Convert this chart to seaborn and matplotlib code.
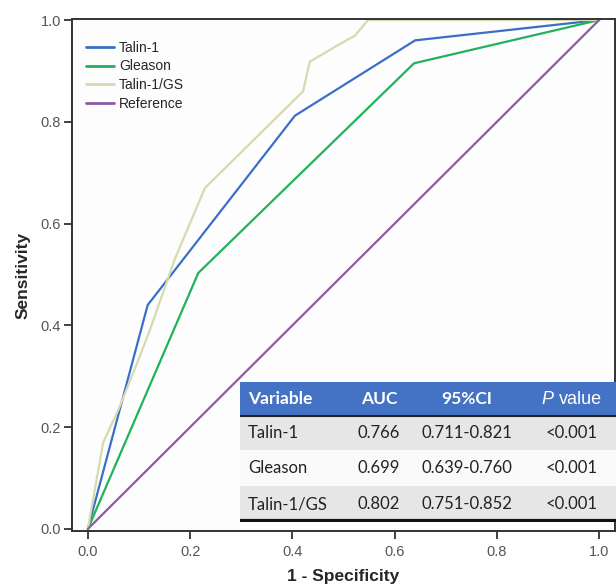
import numpy as np
import pandas as pd
import matplotlib
matplotlib.use("Agg")
import matplotlib.pyplot as plt
import seaborn as sns
from matplotlib.patches import Rectangle

# ROC curve points (1 - specificity, sensitivity)
talin_x = [0.0, 0.117, 0.405, 0.640, 1.0]
talin_y = [0.0, 0.440, 0.812, 0.960, 1.0]

gleason_x = [0.0, 0.216, 0.638, 1.0]
gleason_y = [0.0, 0.503, 0.915, 1.0]

ratio_x = [0.0, 0.030, 0.060, 0.098, 0.121, 0.170, 0.229, 0.421, 0.434, 0.493, 0.522, 0.548, 1.0]
ratio_y = [0.0, 0.170, 0.235, 0.330, 0.390, 0.530, 0.670, 0.860, 0.918, 0.953, 0.969, 1.0, 1.0]

ref_x = [0.0, 1.0]
ref_y = [0.0, 1.0]

series_names = ["Talin-1", "Gleason", "Talin-1/GS", "Reference"]
series_colors = ["#3b6fc6", "#20b25c", "#d4dbb0", "#8c5aa6"]

# summary table
table_header = ["Variable", "AUC", "95%CI", "P value"]
table_variable = ["Talin-1", "Gleason", "Talin-1/GS"]
table_auc = ["0.766", "0.699", "0.802"]
table_ci = ["0.711-0.821", "0.639-0.760", "0.751-0.852"]
table_p = ["<0.001", "<0.001", "<0.001"]

frames = []
for name, xs, ys in zip(series_names,
                        [talin_x, gleason_x, ratio_x, ref_x],
                        [talin_y, gleason_y, ratio_y, ref_y]):
    frames.append(pd.DataFrame({"fpr": xs, "tpr": ys, "Variable": name}))
df = pd.concat(frames, ignore_index=True)

sns.set_style("white")
plt.rcParams["font.family"] = ["Liberation Sans", "DejaVu Sans"]

fig = plt.figure(figsize=(6.16, 5.88), dpi=100)
ax = fig.add_axes([72 / 616, 1 - 531 / 588, 543 / 616, 512 / 588])
ax.set_facecolor("#fdfdfe")

sns.lineplot(data=df, x="fpr", y="tpr", hue="Variable", hue_order=series_names,
             palette=series_colors, sort=False, estimator=None, linewidth=1.6,
             ax=ax)

ticks = np.arange(0, 1.01, 0.2)
ax.set_xlim(-0.031, 1.031)
ax.set_ylim(-0.004, 1.002)
ax.set_xticks(ticks)
ax.set_yticks(ticks)
ax.set_xticklabels([f"{v:.1f}" for v in ticks])
ax.set_yticklabels([f"{v:.1f}" for v in ticks])
ax.tick_params(axis="both", direction="out", length=6, width=1.3, color="#333333",
               labelsize=10.5, labelcolor="#555555", bottom=True, left=True)
ax.tick_params(axis="x", pad=4)
ax.tick_params(axis="y", pad=2)
for s in ax.spines.values():
    s.set_color("#333333")
    s.set_linewidth(1.4)

ax.set_xlabel("1 - Specificity", fontsize=12.5, fontweight="bold", labelpad=7)
ax.set_ylabel("Sensitivity", fontsize=12.5, fontweight="bold", labelpad=7)

leg = ax.legend(loc="upper left", frameon=False, fontsize=10, handlelength=2.0,
                handletextpad=0.4, labelspacing=0.35, borderaxespad=0.6,
                bbox_to_anchor=(0.0, 0.985))
for line in leg.get_lines():
    line.set_linewidth(2)

# table drawn in its own axes over the lower right
tax = fig.add_axes([240 / 616, 1 - 522 / 588, 376 / 616, 140 / 588])
tax.set_xlim(0, 376)
tax.set_ylim(140, 0)
tax.axis("off")

row_edges = [0, 34, 68, 104, 140]
row_fill = ["#4472c4", "#e6e6e6", "#fafafa", "#e6e6e6"]
for i, c in enumerate(row_fill):
    tax.add_patch(Rectangle((0, row_edges[i]), 376, row_edges[i + 1] - row_edges[i],
                            facecolor=c, edgecolor="none"))
tax.plot([0, 376], [34, 34], color="#222222", lw=1.5)
tax.plot([0, 376], [139, 139], color="#111111", lw=3)

col_x = [8, 139, 227, 332]
col_ha = ["left", "center", "center", "center"]
tfont = ["Lato", "DejaVu Sans"]
for j, h in enumerate(table_header[:3]):
    tax.text(col_x[j], 17, h, ha=col_ha[j], va="center", color="white",
             fontsize=12.5, fontweight="bold", family=tfont)
tax.text(col_x[3] - 25, 17, "P", ha="center", va="center", color="white",
         fontsize=13, style="italic", family=["Liberation Sans"])
tax.text(col_x[3] - 13, 17, "value", ha="left", va="center", color="white",
         fontsize=13, family=["Liberation Sans"])

for i, row in enumerate(zip(table_variable, table_auc, table_ci, table_p)):
    yc = (row_edges[i + 1] + row_edges[i + 2]) / 2
    for j, val in enumerate(row):
        tax.text(col_x[j], yc, val, ha=col_ha[j], va="center", color="#222222",
                 fontsize=12, family=tfont)

fig.savefig("out.png", dpi=100)
